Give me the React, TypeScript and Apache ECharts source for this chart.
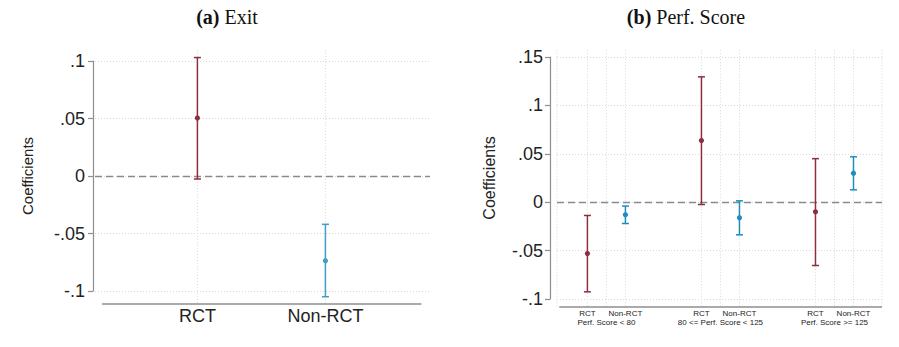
import React, { useEffect, useRef } from "react";
import * as echarts from "echarts";

// ---- Data ----
const exitCategories = ["RCT", "Non-RCT"];
const exitCoef = [0.0505, -0.0736];
const exitLower = [-0.0026, -0.105];
const exitUpper = [0.103, -0.042];

const perfGroups = ["Perf. Score < 80", "80 <= Perf. Score < 125", "Perf. Score >= 125"];
const perfCategories = ["RCT", "Non-RCT"];
const perfCoef = [-0.053, -0.013, 0.0637, -0.0161, -0.0099, 0.030];
const perfLower = [-0.0926, -0.022, -0.0024, -0.0337, -0.0654, 0.0128];
const perfUpper = [-0.0137, -0.004, 0.1295, 0.0014, 0.045, 0.0469];

const yTicksExit = [-0.1, -0.05, 0, 0.05, 0.1];
const yTicksPerf = [-0.1, -0.05, 0, 0.05, 0.1, 0.15];

// ---- Styles ----
const RED = "#8e2d3e";
const BLUE_A = "#3f9ec9";
const BLUE_B = "#1f8cc0";
const AXIS_GRAY = "#8e8e8e";
const GRID_GRAY = "#d9d9d9";
const SANS = "'Liberation Sans', Arial, sans-serif";
const SERIF = "'Liberation Serif', 'Times New Roman', serif";

const fmt = (v: number) => {
  if (Math.abs(v) < 1e-9) return "0";
  return String(+v.toFixed(2)).replace(/^(-?)0\./, "$1.");
};

const errorBarRender = (params: any, api: any) => {
  const x = api.value(0);
  const m = api.value(1);
  const lo = api.value(2);
  const hi = api.value(3);
  const pm = api.coord([x, m]);
  const pl = api.coord([x, lo]);
  const ph = api.coord([x, hi]);
  const c = api.visual("color");
  const w = 3.5;
  const st = { stroke: c, lineWidth: 1.5 };
  return {
    type: "group",
    children: [
      { type: "line", shape: { x1: pm[0], y1: pl[1], x2: pm[0], y2: ph[1] }, style: st },
      { type: "line", shape: { x1: pm[0] - w, y1: ph[1], x2: pm[0] + w, y2: ph[1] }, style: st },
      { type: "line", shape: { x1: pm[0] - w, y1: pl[1], x2: pm[0] + w, y2: pl[1] }, style: st },
      { type: "circle", shape: { cx: pm[0], cy: pm[1], r: 2.6 }, style: { fill: c } },
    ],
  };
};

const vGridRender = (yTop: number, yBot: number) => (params: any, api: any) => {
  const x = api.value(0);
  const p1 = api.coord([x, yTop]);
  const p2 = api.coord([x, yBot]);
  return {
    type: "line",
    shape: { x1: p1[0], y1: p1[1], x2: p2[0], y2: p2[1] },
    style: { stroke: GRID_GRAY, lineWidth: 1, lineDash: [1, 2] },
  };
};

const xLineRender = (params: any, api: any) => {
  const p1 = api.coord([api.value(0), api.value(2)]);
  const p2 = api.coord([api.value(1), api.value(2)]);
  return {
    type: "line",
    shape: { x1: p1[0], y1: p1[1], x2: p2[0], y2: p2[1] },
    style: { stroke: AXIS_GRAY, lineWidth: 1.5 },
  };
};

export default function App() {
  const ref = useRef<HTMLDivElement>(null);

  useEffect(() => {
    if (!ref.current) return;
    const chart = echarts.init(ref.current, undefined, { renderer: "svg" });

    const exitX = exitCategories.map((_, i) => i + 1);
    const perfX: number[] = [];
    perfGroups.forEach((_, g) => perfCategories.forEach((__, j) => perfX.push(3 * g + j + 1)));
    const groupX = perfGroups.map((_, g) => 3 * g + 1.5);

    const yAxisCommon = (ticks: number[], offset: number, nameGap: number, nameSize: number, margin: number) => ({
      type: "value",
      min: ticks[0],
      max: ticks[ticks.length - 1],
      interval: 0.05,
      offset,
      name: "Coefficients",
      nameLocation: "middle",
      nameRotate: 90,
      nameGap,
      nameTextStyle: { fontFamily: SANS, fontSize: nameSize, color: "#222" },
      axisLine: { show: true, lineStyle: { color: AXIS_GRAY, width: 1.2 } },
      axisTick: { show: true, length: 5, lineStyle: { color: AXIS_GRAY, width: 1.2 } },
      axisLabel: { formatter: fmt, fontFamily: SANS, fontSize: 18, color: "#222", margin },
      splitLine: { show: true, lineStyle: { color: GRID_GRAY, type: [1, 2], width: 1 } },
    });

    const zeroLine = {
      silent: true,
      symbol: ["none", "none"],
      label: { show: false },
      lineStyle: { color: "#8a8a8a", type: [7, 4], width: 1.3 },
      data: [{ yAxis: 0 }],
    };

    const option: any = {
      animation: false,
      backgroundColor: "#ffffff",
      graphic: [
        {
          type: "text",
          x: 227,
          y: 17,
          style: {
            text: "{b|(a)} Exit",
            align: "center",
            verticalAlign: "middle",
            font: `20px ${SERIF}`,
            fill: "#111",
            rich: { b: { fontWeight: "bold", fontFamily: SERIF, fontSize: 20 } },
          },
        },
        {
          type: "text",
          x: 686,
          y: 17,
          style: {
            text: "{b|(b)} Perf. Score",
            align: "center",
            verticalAlign: "middle",
            font: `20px ${SERIF}`,
            fill: "#111",
            rich: { b: { fontWeight: "bold", fontFamily: SERIF, fontSize: 20 } },
          },
        },
      ],
      grid: [
        { left: 95, top: 61, width: 335, height: 230 },
        { left: 557, top: 57, width: 325, height: 242 },
      ],
      xAxis: [
        {
          type: "value",
          gridIndex: 0,
          position: "bottom",
          min: 0.2,
          max: 2.817,
          axisLine: { show: false },
          axisTick: { show: false },
          splitLine: { show: false },
          axisLabel: {
            customValues: exitX,
            formatter: (v: number) => exitCategories[Math.round(v) - 1] ?? "",
            fontFamily: SANS,
            fontSize: 18,
            color: "#222",
            margin: 16,
          },
        },
        {
          type: "value",
          gridIndex: 1,
          position: "bottom",
          min: 0.2,
          max: 8.75,
          axisLine: { show: false },
          axisTick: { show: false },
          splitLine: { show: false },
          axisLabel: {
            customValues: perfX,
            formatter: (v: number) => perfCategories[(Math.round(v) - 1) % 3] ?? "",
            fontFamily: SANS,
            fontSize: 8,
            color: "#222",
            margin: 10,
          },
        },
        {
          type: "value",
          gridIndex: 1,
          position: "bottom",
          offset: 0,
          min: 0.2,
          max: 8.75,
          axisLine: { show: false },
          axisTick: { show: false },
          splitLine: { show: false },
          axisLabel: {
            customValues: groupX,
            formatter: (v: number) => perfGroups[Math.round((v - 1.5) / 3)] ?? "",
            fontFamily: SANS,
            fontSize: 8,
            color: "#222",
            margin: 19,
          },
        },
      ],
      yAxis: [
        { ...yAxisCommon(yTicksExit, 2, 58, 15, 8), gridIndex: 0 },
        { ...yAxisCommon(yTicksPerf, 7, 53, 16, 7), gridIndex: 1 },
      ],
      series: [
        {
          type: "custom",
          xAxisIndex: 0,
          yAxisIndex: 0,
          silent: true,
          renderItem: vGridRender(0.1096, -0.1113),
          data: exitX.map((x) => [x]),
          encode: { x: 0 },
          z: 1,
        },
        {
          type: "custom",
          xAxisIndex: 0,
          yAxisIndex: 0,
          silent: true,
          renderItem: xLineRender,
          data: [[0.255, 2.75, -0.1113]],
          encode: { x: [0, 1], y: 2 },
          z: 2,
        },
        {
          type: "custom",
          xAxisIndex: 0,
          yAxisIndex: 0,
          renderItem: errorBarRender,
          encode: { x: 0, y: [1, 2, 3] },
          data: exitX.map((x, i) => ({
            value: [x, exitCoef[i], exitLower[i], exitUpper[i]],
            itemStyle: { color: i === 0 ? RED : BLUE_A },
          })),
          markLine: zeroLine,
          z: 5,
        },
        {
          type: "custom",
          xAxisIndex: 1,
          yAxisIndex: 1,
          silent: true,
          renderItem: vGridRender(0.157, -0.1083),
          data: [0.2, ...perfX, ...groupX, 8.75].map((x) => [x]),
          encode: { x: 0 },
          z: 1,
        },
        {
          type: "custom",
          xAxisIndex: 1,
          yAxisIndex: 1,
          silent: true,
          renderItem: xLineRender,
          data: [[0.26, 8.75, -0.1083]],
          encode: { x: [0, 1], y: 2 },
          z: 2,
        },
        {
          type: "custom",
          xAxisIndex: 1,
          yAxisIndex: 1,
          renderItem: errorBarRender,
          encode: { x: 0, y: [1, 2, 3] },
          data: perfX.map((x, i) => ({
            value: [x, perfCoef[i], perfLower[i], perfUpper[i]],
            itemStyle: { color: i % 2 === 0 ? RED : BLUE_B },
          })),
          markLine: zeroLine,
          z: 5,
        },
      ],
    };

    chart.setOption(option);
    return () => chart.dispose();
  }, []);

  return <div ref={ref} style={{ width: 899, height: 347, margin: -8 }} />;
}
